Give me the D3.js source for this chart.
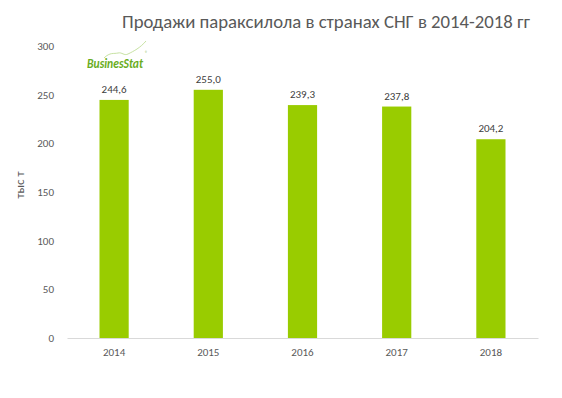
<!DOCTYPE html>
<html>
<head>
<meta charset="utf-8">
<script src="https://cdn.jsdelivr.net/npm/d3@7"></script>
<style>
  body { margin: 0; background: #fff; }
  text { font-family: Calibri, Carlito, "Open Sans", sans-serif; }
</style>
</head>
<body>
<svg id="chart"></svg>
<script>
var years = ["2014", "2015", "2016", "2017", "2018"];
var sales = [244.6, 255.0, 239.3, 237.8, 204.2];
var yTicks = [0, 50, 100, 150, 200, 250, 300];

var svgWidth = 562, svgHeight = 398;
var margin = {top: 46, right: 24, bottom: 60, left: 67};
var w = svgWidth - margin.left - margin.right;
var h = svgHeight - margin.top - margin.bottom;

var svg = d3.select("#chart")
    .attr("width", svgWidth)
    .attr("height", svgHeight);

var x = d3.scaleBand().domain(years).range([0, w]).paddingInner(0.69).paddingOuter(0.345);
var y = d3.scaleLinear().domain([0, 300]).range([h, 0]);

var g = svg.append("g").attr("transform", "translate(" + margin.left + "," + margin.top + ")");

// title
svg.append("text")
    .attr("x", 326).attr("y", 28)
    .attr("text-anchor", "middle")
    .attr("font-size", 18)
    .attr("fill", "#595959")
    .attr("textLength", 408)
    .attr("lengthAdjust", "spacingAndGlyphs")
    .text("Продажи параксилола в странах СНГ в 2014-2018 гг");

// y axis labels
var yAxis = d3.axisLeft(y).tickValues(yTicks).tickSize(0).tickPadding(13);
var ya = g.append("g").call(yAxis);
ya.select(".domain").remove();
ya.selectAll("text").attr("font-size", 11).attr("fill", "#595959")
    .style("font-family", "Calibri, Carlito, 'Open Sans', sans-serif");

svg.append("text")
    .attr("transform", "translate(24,185) rotate(-90)")
    .attr("text-anchor", "middle")
    .attr("font-size", 13)
    .attr("fill", "#595959")
    .text("тыс т");

// bars
g.selectAll("rect.bar")
    .data(sales)
    .enter()
    .append("rect")
    .attr("class", "bar")
    .attr("x", function(d, i) { return x(years[i]); })
    .attr("y", function(d) { return y(d); })
    .attr("width", x.bandwidth())
    .attr("height", function(d) { return h - y(d); })
    .attr("fill", "#99cc00");

// value labels
g.selectAll("text.val")
    .data(sales)
    .enter()
    .append("text")
    .attr("class", "val")
    .attr("x", function(d, i) { return x(years[i]) + x.bandwidth() / 2; })
    .attr("y", function(d) { return y(d) - 7; })
    .attr("text-anchor", "middle")
    .attr("font-size", 11)
    .attr("fill", "#404040")
    .text(function(d) { return d.toFixed(1).replace(".", ","); });

// x axis
var xAxis = d3.axisBottom(x).tickSize(0).tickPadding(10);
var xa = g.append("g").attr("transform", "translate(0," + h + ")").call(xAxis);
xa.select(".domain").attr("stroke", "#d9d9d9").attr("stroke-width", 1);
xa.selectAll("text").attr("font-size", 11).attr("fill", "#595959")
    .style("font-family", "Calibri, Carlito, 'Open Sans', sans-serif");

// logo
var logo = svg.append("g");
logo.append("path")
    .attr("d", "M104,58 C110,52 114,54 118,53 C122,52 124,56 128,54 C134,51 140,48 146,41")
    .attr("fill", "none")
    .attr("stroke", "#b8d98a")
    .attr("stroke-width", 0.8);
logo.append("text")
    .attr("x", 87).attr("y", 68)
    .attr("font-size", 13)
    .attr("font-weight", "bold")
    .attr("font-style", "italic")
    .attr("fill", "#6aad1e")
    .attr("textLength", 56)
    .attr("lengthAdjust", "spacingAndGlyphs")
    .text("BusinesStat");
logo.append("text")
    .attr("x", 145).attr("y", 55)
    .attr("font-size", 5)
    .attr("fill", "#6aad1e")
    .text("®");
</script>
</body>
</html>
